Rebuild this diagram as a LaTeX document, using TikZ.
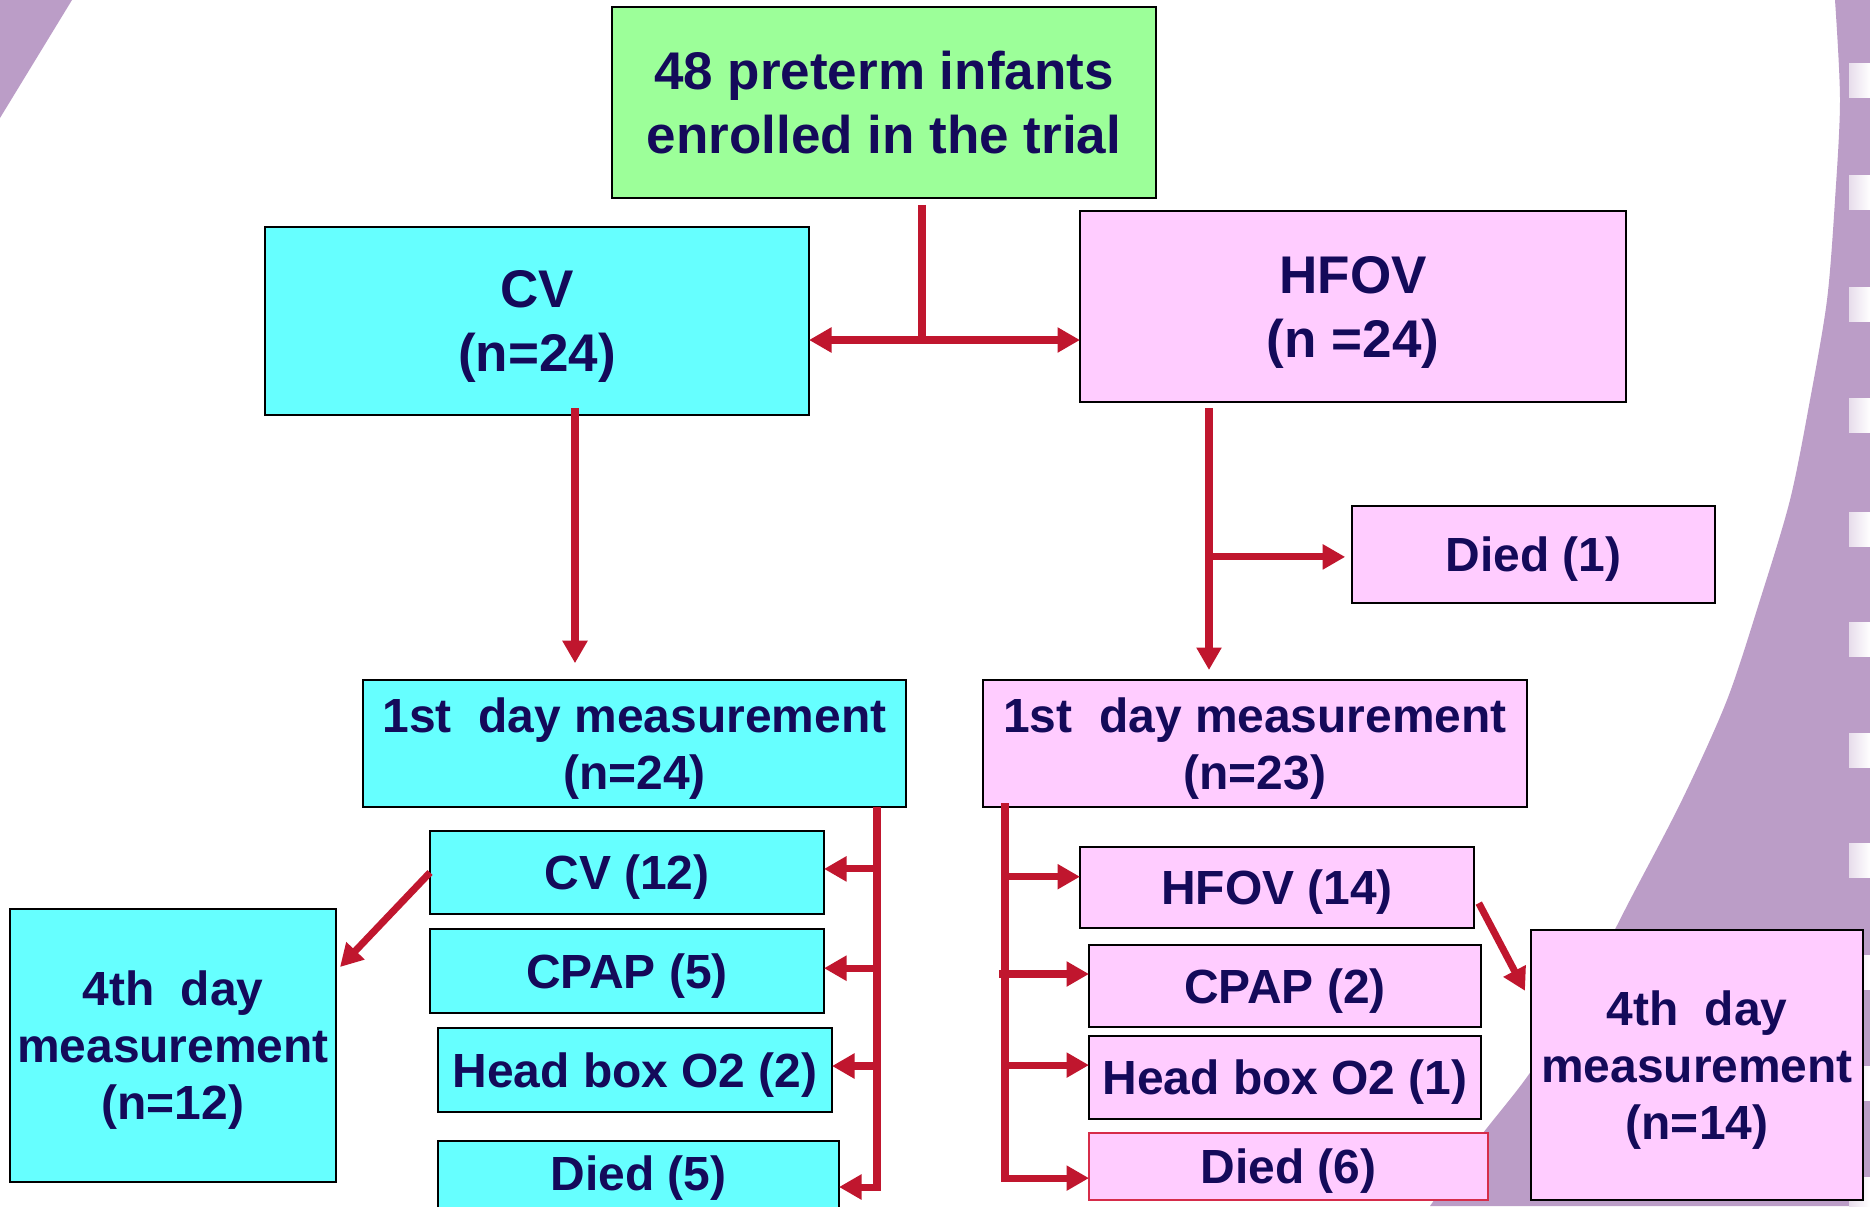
\documentclass[tikz,border=0pt]{standalone}
\usepackage{fontspec}
\setmainfont{Liberation Sans}
\usetikzlibrary{arrows.meta}
\definecolor{bgpurple}{RGB}{187,157,199}
\definecolor{boxgreen}{RGB}{156,255,153}
\definecolor{boxcyan}{RGB}{102,255,255}
\definecolor{boxpink}{RGB}{255,204,255}
\definecolor{arrred}{RGB}{192,22,46}
\definecolor{txtnavy}{RGB}{20,10,90}
\definecolor{diedred}{RGB}{214,44,74}
\newcommand{\mkbox}[7]{\node[#6, minimum width={(#4-#2)*0.025cm}, minimum height={(#5-#3)*0.025cm}] (#1) at ({(#2+#4)/2},{(#3+#5)/2}) {#7};}
\begin{document}
\begin{tikzpicture}[x=0.025cm, y=-0.025cm,
  box/.style={draw=black, line width=1.4pt, inner sep=0pt, outer sep=0pt, align=center, text=txtnavy,
    font=\bfseries\fontsize{34.1pt}{40.5pt}\selectfont, text depth=0pt},
  bigtext/.style={font=\bfseries\fontsize{37.7pt}{45.5pt}\selectfont},
  greenbox/.style={box, fill=boxgreen, bigtext},
  cyanbox/.style={box, fill=boxcyan},
  pinkbox/.style={box, fill=boxpink},
  conn/.style={draw=arrred, line width=5pt},
  arr/.style={conn, -{Triangle[length=16pt,width=17pt]}}]
\useasboundingbox (0,0) rectangle (1870,1206);
\clip (0,0) rectangle (1870,1206);
% background
\fill[white] (0,0) rectangle (1870,1206);
\fill[bgpurple] (0,0) -- (72,0) -- (0,118) -- cycle;
\fill[bgpurple] plot[smooth] coordinates {(1835,0) (1840,100) (1835,200) (1827,300) (1810,400) (1790,500) (1760,600) (1727,700) (1682,800) (1630,900) (1578,1000) (1527,1077) (1480,1137) (1430,1206)} -- (1870,1206) -- (1870,0) -- cycle;
\foreach \yy in {63,175,287,398,512,622,733,843,955,1066,1177}
  \shade[left color=bgpurple!35!white, right color=white] (1849,\yy) rectangle (1870,\yy+34);
% boxes
\mkbox{top}{612}{7}{1156}{198}{greenbox}{48 preterm infants\\enrolled in the trial}
\mkbox{cv}{265}{227}{809}{415}{cyanbox, bigtext}{CV\\(n=24)}
\mkbox{hfov}{1080}{211}{1626}{402}{pinkbox, bigtext}{HFOV\\(n =24)}
\mkbox{died1}{1352}{506}{1715}{603}{pinkbox}{Died (1)}
\mkbox{cvday1}{363}{680}{906}{807}{cyanbox}{1st~~day measurement\\(n=24)}
\mkbox{hday1}{983}{680}{1527}{807}{pinkbox}{1st~~day measurement\\(n=23)}
\mkbox{cv12}{430}{831}{824}{914}{cyanbox}{CV (12)}
\mkbox{cpap5}{430}{929}{824}{1013}{cyanbox}{CPAP (5)}
\mkbox{head2}{438}{1028}{832}{1112}{cyanbox}{Head box O2 (2)}
\mkbox{died5}{438}{1141}{839}{1215}{cyanbox, text depth=0.25cm}{Died (5)}
\mkbox{hfov14}{1080}{847}{1474}{928}{pinkbox}{HFOV (14)}
\mkbox{cpap2}{1089}{945}{1481}{1027}{pinkbox}{CPAP (2)}
\mkbox{head1}{1089}{1036}{1481}{1119}{pinkbox}{Head box O2 (1)}
\mkbox{died6}{1089}{1133}{1488}{1200}{pinkbox, draw=diedred, line width=1pt}{Died (6)}
\mkbox{cvfour}{10}{909}{336}{1182}{cyanbox}{4th~~day\\measurement\\(n=12)}
\mkbox{hfour}{1531}{930}{1863}{1200}{pinkbox}{4th~~day\\measurement\\(n=14)}
% top split
\coordinate (stem) at ([yshift=-0.17cm]top.south);
\coordinate (split) at (922,340);
\draw[conn] (stem -| split) -- (split);
\draw[arr] (split) -- (cv.east |- split);
\draw[arr] (split) -- (hfov.west |- split);
% down arrows
\coordinate (cvx) at (575,0);
\draw[arr, shorten >=0.42cm, shorten <=-0.17cm] (cv.south -| cvx) -- (cvday1.north -| cvx);
\coordinate (hx) at (1209,0);
\draw[arr, shorten >=0.25cm, shorten <=0.15cm] (hfov.south -| hx) -- (hday1.north -| hx);
\coordinate (d1in) at ([yshift=-0.06cm]died1.west);
\draw[arr, shorten >=0.17cm] (hx |- d1in) -- (d1in);
% CV branch
\coordinate (cvb) at (877,0);
\coordinate (cvbend) at (877,1187);
\draw[arr] (cvday1.south -| cvb) -- (cvbend) -- (died5.east |- cvbend);
\coordinate (c12in) at ([yshift=0.09cm]cv12.east);
\draw[arr] (cvb |- c12in) -- (c12in);
\coordinate (c5in) at ([yshift=0.07cm]cpap5.east);
\draw[arr] (cvb |- c5in) -- (c5in);
\coordinate (h2in) at ([yshift=0.1cm]head2.east);
\draw[arr] (cvb |- h2in) -- (h2in);
% HFOV branch
\coordinate (hb) at (1005,0);
\coordinate (d6in) at ([yshift=-0.29cm]died6.west);
\coordinate (hbend) at (hb |- d6in);
\draw[conn, line cap=rect] (hday1.south -| hb) -- (hbend);
\draw[arr] (hbend) -- (d6in);
\coordinate (h14in) at ([yshift=0.27cm]hfov14.west);
\draw[arr] (hb |- h14in) -- (h14in);
\coordinate (c2in) at ([yshift=0.3cm]cpap2.west);
\coordinate (c2base) at (hb |- c2in);
\draw[arr] ([xshift=-0.15cm]c2base) -- (c2in);
\coordinate (hd1in) at ([yshift=0.31cm]head1.west);
\draw[arr] (hb |- hd1in) -- (hd1in);
% diagonals to 4th day
\coordinate (c4t) at ([xshift=0.1cm,yshift=-1.45cm]cvfour.north east);
\draw[arr] (cv12.west) -- (c4t);
\coordinate (h14out) at ([xshift=0.12cm,yshift=-0.39cm]hfov14.east);
\coordinate (h4t) at ([xshift=-0.15cm,yshift=-1.52cm]hfour.north west);
\draw[arr] (h14out) -- (h4t);
\end{tikzpicture}
\end{document}
